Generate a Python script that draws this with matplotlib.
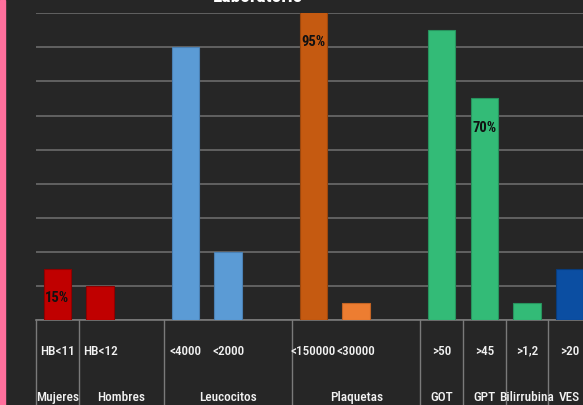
#! /usr/bin/env python3
import matplotlib
matplotlib.use("Agg")
import matplotlib.pyplot as plt
from matplotlib.patches import Rectangle

# Datos del gráfico (None = hueco entre grupos)
categorias = ["HB<11", "HB<12", None, "<4000", "<2000", None,
              "<150000", "<30000", None, ">50", ">45", ">1,2", ">20"]
valores = [15, 10, 0, 80, 20, 0, 95, 5, 0, 85, 65, 5, 15]
etiquetas = ["15%", "", "", "", "", "", "95%", "", "", "", "70%", "", ""]
colores = ["#C00000", "#C00000", "none", "#5B9BD5", "#5B9BD5", "none",
           "#C55A11", "#ED7D31", "none", "#33BB77", "#33BB77", "#33BB77",
           "#0B4EA2"]
bordes = ["#8f0000", "#8f0000", "none", "#4a80b3", "#4a80b3", "none",
          "#9c470d", "#c46424", "none", "#27935d", "#27935d", "#27935d",
          "#083b7a"]
grupos = ["Mujeres", "Hombres", "Leucocitos", "Plaquetas",
          "GOT", "GPT", "Bilirrubina", "VES"]
tam_grupos = [1, 2, 3, 3, 1, 1, 1, 1]

fondo = "#262626"
fuente = ["Roboto Condensed", "DejaVu Sans"]
plt.rcParams["font.stretch"] = "condensed"

fig = plt.figure(figsize=(5.83, 4.05), dpi=100, facecolor=fondo)
ax = fig.add_axes([36 / 583, 85 / 405, 555 / 583, 306.7 / 405])
ax.set_facecolor(fondo)

x = list(range(len(valores)))
ax.bar(x, valores, width=0.645, color=colores, edgecolor=bordes,
       linewidth=0.8, zorder=3)
ax.set_xlim(-0.5, len(valores) - 0.5)
ax.set_ylim(0, 90)
ax.set_yticks(range(0, 91, 10))
ax.set_yticklabels([])
ax.tick_params(left=False, bottom=False, labelbottom=False)
ax.yaxis.grid(True, color="#6b6b6b", linewidth=1.2, zorder=0)
for s in ["top", "right", "left"]:
    ax.spines[s].set_visible(False)
ax.spines["bottom"].set_color("#7a7a7a")
ax.spines["bottom"].set_linewidth(1.2)

# Etiquetas de datos
for xi, v, et in zip(x, valores, etiquetas):
    if et:
        ax.annotate(et, (xi, min(v, 90)), xytext=(0, -21),
                    textcoords="offset points", ha="center", va="center",
                    fontsize=10.5, fontweight="bold", color="#111111",
                    family=fuente, zorder=4)

# Etiquetas del eje (dos niveles)
for xi, cat in zip(x, categorias):
    if cat:
        ax.annotate(cat, (xi, 0), xycoords=("data", "axes fraction"),
                    xytext=(0, -22.5), textcoords="offset points",
                    ha="center", va="center", fontsize=9.5,
                    fontweight="medium", color="#f2f2f2", family=fuente)

inicio = -0.5
ax.plot([inicio, inicio], [0, -0.3], transform=ax.get_xaxis_transform(),
        color="#7a7a7a", lw=1, clip_on=False)
for g, n in zip(grupos, tam_grupos):
    fin = inicio + n
    ax.annotate(g, ((inicio + fin) / 2, 0),
                xycoords=("data", "axes fraction"), xytext=(0, -55.5),
                textcoords="offset points", ha="center", va="center",
                fontsize=9.5, fontweight="medium", color="#f2f2f2",
                family=fuente)
    ax.plot([fin, fin], [0, -0.3], transform=ax.get_xaxis_transform(),
            color="#7a7a7a", lw=1, clip_on=False)
    inicio = fin

# Título (recortado en la imagen original)
fig.text(258 / 583, 1.0 + 3 / 405, "Laboratorio", ha="center", va="center",
         fontsize=14, fontweight="bold", color="white", family=fuente)

# Franja rosa a la izquierda
fig.patches.append(Rectangle((0, 0), 5 / 583, 1, transform=fig.transFigure,
                             color="#FF6F9C", zorder=5))

fig.savefig("out.png", dpi=100, facecolor=fondo)
